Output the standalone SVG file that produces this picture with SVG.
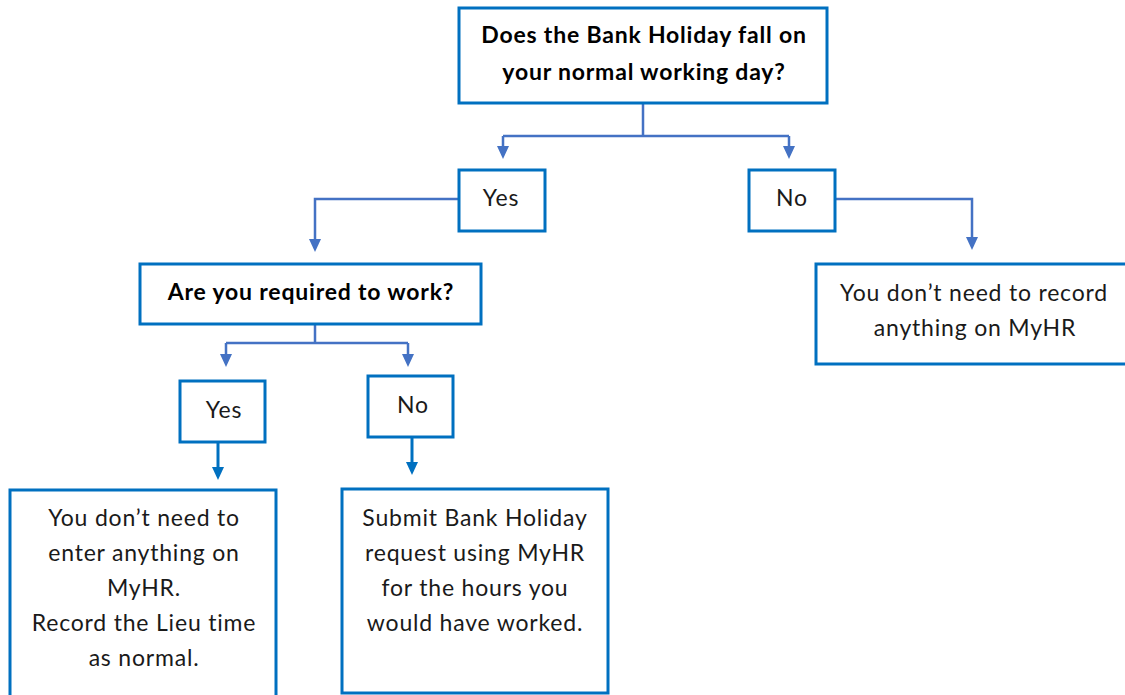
<svg xmlns="http://www.w3.org/2000/svg" width="1125" height="695" viewBox="0 0 1125 695">
<defs>
<style>
.box{fill:#fff;stroke:#0070C0;stroke-width:3}
.t{font-family:Lato,"Liberation Sans",sans-serif;font-size:23px;letter-spacing:0.8px;fill:#1a1a1a;text-anchor:middle}
.b{font-weight:bold;fill:#000}
.c1{fill:none;stroke:#4472C4;stroke-width:2.5}
.c2{fill:none;stroke:#0070C0;stroke-width:3}
.h1{fill:#4472C4}
.h2{fill:#0070C0}
</style>
</defs>
<rect width="1125" height="695" fill="#fff"/>
<g id="connectors">
<path class="c1" d="M643,103 V136 M503,136 H789 M503,136 V146 M789,136 V146"/>
<path class="h1" d="M497,146 H509 L503,159 Z M783,146 H795 L789,159 Z"/>
<path class="c1" d="M459,199 H315 V240"/>
<path class="h1" d="M309,239 H321 L315,252 Z"/>
<path class="c1" d="M835,199 H972 V238"/>
<path class="h1" d="M966,237 H978 L972,250 Z"/>
<path class="c1" d="M315,325 V343 M226,343 H408 M226,343 V355 M408,343 V355"/>
<path class="h1" d="M220,354 H232 L226,367 Z M402,354 H414 L408,367 Z"/>
<path class="c2" d="M218,442 V468"/>
<path class="h2" d="M212,467 H224 L218,480 Z"/>
<path class="c2" d="M412,437 V463"/>
<path class="h2" d="M406,462 H418 L412,475 Z"/>
</g>
<g id="q1">
<rect class="box" x="459" y="8" width="368" height="95"/>
<text class="t b" x="644" y="43">Does the Bank Holiday fall on</text>
<text class="t b" x="644" y="80">your normal working day?</text>
</g>
<g id="yes1">
<rect class="box" x="459" y="170" width="86" height="61"/>
<text class="t" x="501" y="206">Yes</text>
</g>
<g id="no1">
<rect class="box" x="749" y="170" width="86" height="61"/>
<text class="t" x="792" y="206">No</text>
</g>
<g id="q2">
<rect class="box" x="140" y="264" width="341" height="60"/>
<text class="t b" x="311" y="300">Are you required to work?</text>
</g>
<g id="norecord">
<rect class="box" x="816" y="264" width="320" height="100"/>
<text class="t" x="974" y="301">You don’t need to record</text>
<text class="t" x="975" y="336">anything on MyHR</text>
</g>
<g id="yes2">
<rect class="box" x="180" y="381" width="85" height="61"/>
<text class="t" x="224" y="418">Yes</text>
</g>
<g id="no2">
<rect class="box" x="368" y="376" width="85" height="61"/>
<text class="t" x="413" y="413">No</text>
</g>
<g id="lieu">
<rect class="box" x="10" y="490" width="266" height="220"/>
<text class="t" x="144" y="526">You don’t need to</text>
<text class="t" x="144" y="561">enter anything on</text>
<text class="t" x="144" y="596">MyHR.</text>
<text class="t" x="144" y="631">Record the Lieu time</text>
<text class="t" x="144" y="666">as normal.</text>
</g>
<g id="submit">
<rect class="box" x="342" y="489" width="266" height="204"/>
<text class="t" x="475" y="526">Submit Bank Holiday</text>
<text class="t" x="475" y="561">request using MyHR</text>
<text class="t" x="475" y="596">for the hours you</text>
<text class="t" x="475" y="631">would have worked.</text>
</g>
</svg>
